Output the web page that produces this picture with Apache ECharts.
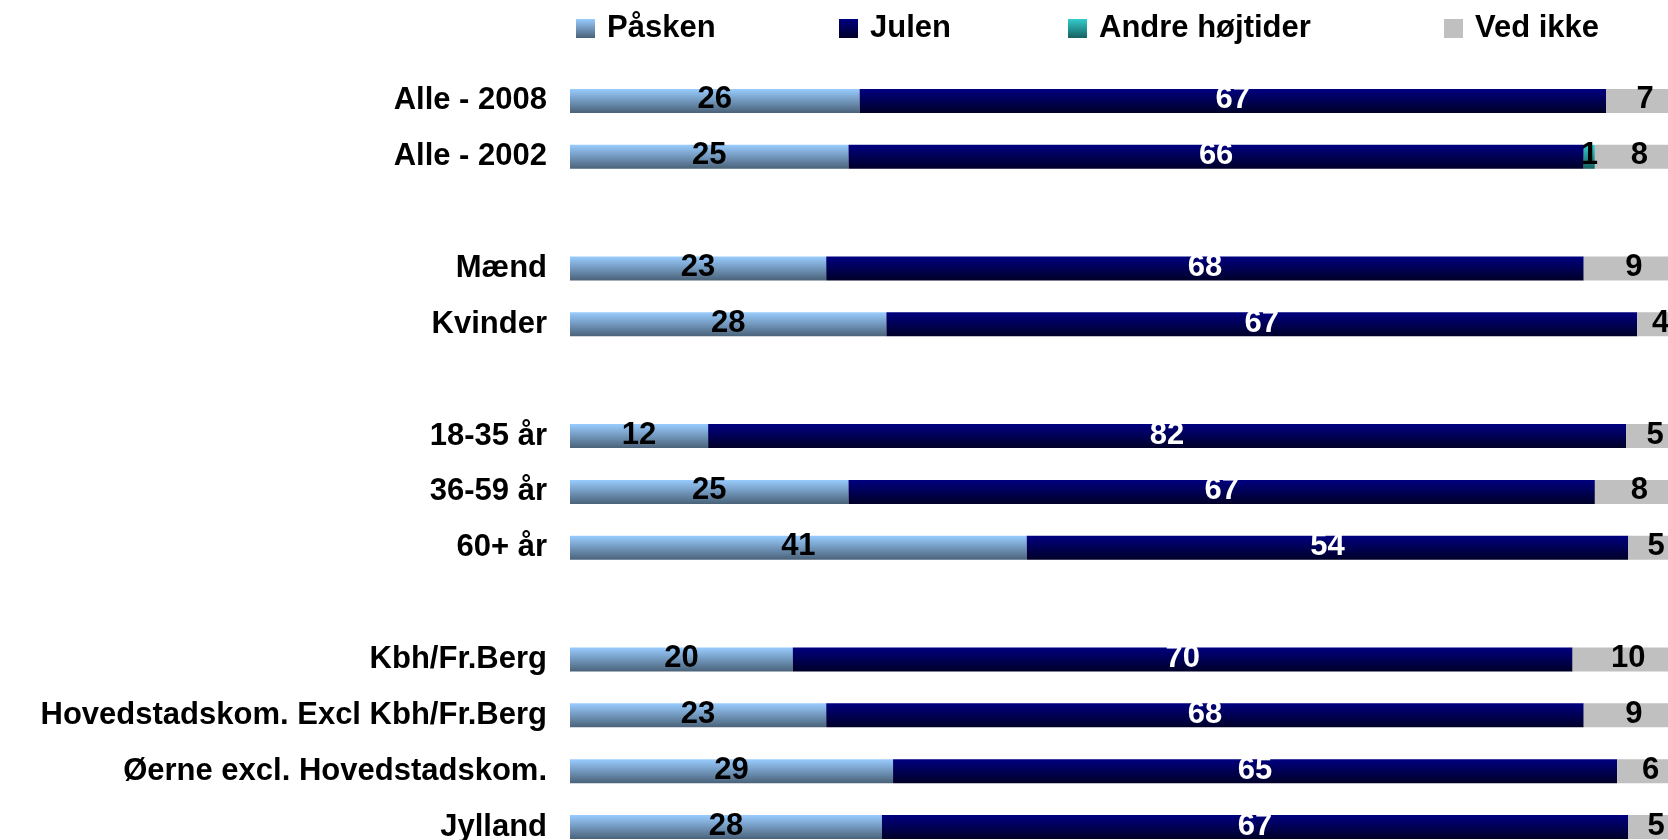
<!DOCTYPE html>
<html>
<head>
<meta charset="utf-8">
<script src="https://cdn.jsdelivr.net/npm/echarts@6/dist/echarts.min.js"></script>
<style>
  html, body { margin: 0; padding: 0; background: #fff; }
  #chart { width: 1668px; height: 840px; }
</style>
</head>
<body>
<div id="chart"></div>
<script>
// categories, top to bottom (blank rows are the gaps between groups)
var categories = ["Alle - 2008", "Alle - 2002", " ", "Mænd", "Kvinder", "  ",
  "18-35 år", "36-59 år", "60+ år", "   ",
  "Kbh/Fr.Berg", "Hovedstadskom. Excl Kbh/Fr.Berg", "Øerne excl. Hovedstadskom.", "Jylland"];

var seriesNames = ["Påsken", "Julen", "Andre højtider", "Ved ikke"];

// percentages, one value per category (null = gap row / no value)
var paasken = [26, 25, null, 23, 28.4, null, 12.4, 25, 41, null, 20, 23, 29, 28];
var julen   = [67, 66, null, 68, 67.4, null, 82.4, 67, 54, null, 70, 68, 65, 67];
var andre   = [null, 1, null, null, null, null, null, null, null, null, null, null, null, null];
var vedIkke = [7, 8, null, 9, 4.2, null, 5.2, 8, 5, null, 10, 9, 6, 5];

var FONT = "Liberation Sans";

function grad(top, bottom) {
  return new echarts.graphic.LinearGradient(0, 0, 0, 1, [
    { offset: 0, color: top },
    { offset: 1, color: bottom }
  ]);
}

var colors = [
  grad("#99ccff", "#4a6279"),
  grad("#000080", "#000028"),
  grad("#33cccc", "#176060"),
  "#c0c0c0"
];
var labelColors = ["#000", "#fff", "#000", "#000"];
var values = [paasken, julen, andre, vedIkke];

var chart = echarts.init(document.getElementById("chart"));

var legendX = [576, 839, 1068, 1444];

var option = {
  animation: false,
  legend: seriesNames.map(function (n, i) {
    return {
      data: [n],
      left: legendX[i],
      top: 13,
      padding: 0,
      icon: "rect",
      itemWidth: 19,
      itemHeight: 19,
      selectedMode: false,
      textStyle: {
        fontFamily: FONT,
        fontWeight: "bold",
        fontSize: 31,
        color: "#000",
        padding: [0, 0, 0, 7]
      }
    };
  }),
  grid: {
    left: 570,
    top: 73,
    width: 1114,
    height: 782,
    outerBoundsMode: "none"
  },
  xAxis: {
    type: "value",
    min: 0,
    max: 100,
    show: false
  },
  yAxis: {
    type: "category",
    inverse: true,
    data: categories,
    axisLine: { show: false },
    axisTick: { show: false },
    axisLabel: {
      margin: 23,
      fontFamily: FONT,
      fontWeight: "bold",
      fontSize: 31,
      color: "#000"
    }
  },
  series: seriesNames.map(function (n, i) {
    return {
      name: n,
      type: "bar",
      stack: "total",
      barWidth: 24,
      data: values[i],
      itemStyle: { color: colors[i] },
      label: {
        show: true,
        position: "inside",
        offset: [0, -1],
        fontFamily: FONT,
        fontWeight: "bold",
        fontSize: 31,
        color: labelColors[i],
        textBorderWidth: 0,
        formatter: function (p) {
          return p.value == null ? "" : Math.round(p.value);
        }
      }
    };
  })
};

chart.setOption(option);
</script>
</body>
</html>
